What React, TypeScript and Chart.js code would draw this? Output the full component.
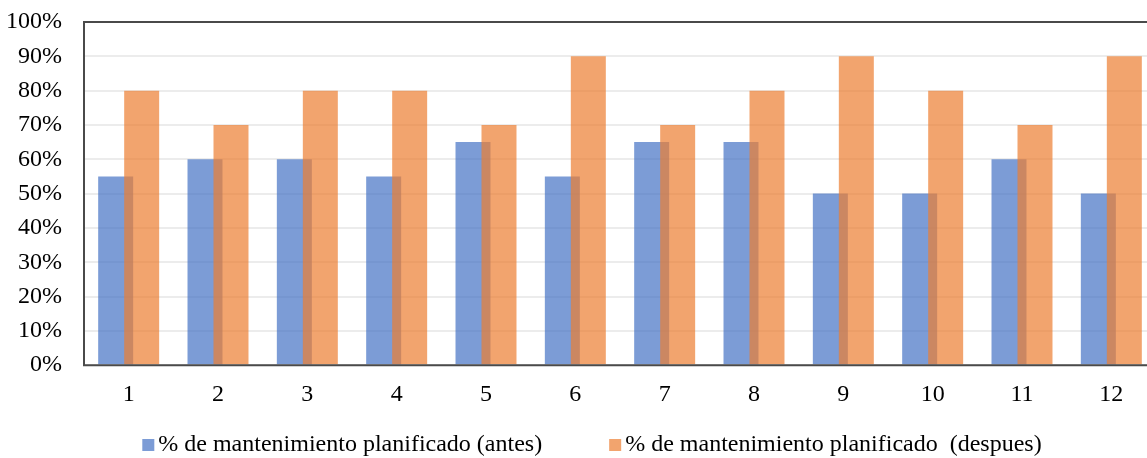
import { useEffect, useRef } from "react";
import { Chart, registerables } from "chart.js";

Chart.register(...registerables);

// Months 1..12 and the share of planned maintenance before / after.
const categories = ["1", "2", "3", "4", "5", "6", "7", "8", "9", "10", "11", "12"];
const antes = [55, 60, 60, 55, 65, 55, 65, 65, 50, 50, 60, 50];
const despues = [80, 70, 80, 80, 70, 90, 70, 80, 90, 80, 70, 90];
const seriesLabels = [
  "% de mantenimiento planificado (antes)",
  "% de mantenimiento planificado  (despues)",
];

const FONT = "'Liberation Serif', 'Times New Roman', serif";
const BLUE = "rgba(68, 114, 196, 0.7)";
const ORANGE = "rgba(237, 125, 49, 0.7)";

// Paint the second series after the first so its translucent bars overlap on top.
const overlapOrderPlugin = {
  id: "overlapOrder",
  beforeDatasetDraw(_chart: any, args: any) {
    if (args.index === 1) return false;
    return true;
  },
  afterDatasetsDraw(chart: any) {
    const meta = chart.getDatasetMeta(1);
    if (meta && meta.visible) meta.controller.draw();
  },
};

// Dark lines on the top, left and bottom of the plot area.
const framePlugin = {
  id: "frame",
  afterDatasetsDraw(chart: any) {
    const { ctx, chartArea: a } = chart;
    ctx.save();
    ctx.strokeStyle = "#4a4a4a";
    ctx.lineWidth = 2;
    ctx.beginPath();
    ctx.moveTo(a.right + 10, a.top);
    ctx.lineTo(a.left, a.top);
    ctx.lineTo(a.left, a.bottom);
    ctx.lineTo(a.right + 10, a.bottom);
    ctx.stroke();
    ctx.restore();
  },
};

// Legend row under the axis: square swatch followed by the series name.
const legendPlugin = {
  id: "bottomLegend",
  afterDraw(chart: any) {
    const { ctx } = chart;
    const box = 12;
    const textGap = 4;
    const itemGap = 67;
    const centerX = 592;
    const y = 445;
    ctx.save();
    ctx.font = `24px ${FONT}`;
    ctx.textBaseline = "middle";
    ctx.textAlign = "left";
    const items = chart.data.datasets.map((ds: any) => ({
      text: ds.label as string,
      color: ds.backgroundColor as string,
      w: ctx.measureText(ds.label).width,
    }));
    const total =
      items.reduce((s: number, it: any) => s + box + textGap + it.w, 0) +
      itemGap * (items.length - 1);
    let x = centerX - total / 2;
    for (const it of items) {
      ctx.fillStyle = it.color;
      ctx.fillRect(x, y - box / 2, box, box);
      x += box + textGap;
      ctx.fillStyle = "#000";
      ctx.fillText(it.text, x, y);
      x += it.w + itemGap;
    }
    ctx.restore();
  },
};

export default function App() {
  const ref = useRef<HTMLCanvasElement | null>(null);

  useEffect(() => {
    if (!ref.current) return;
    const chart = new Chart(ref.current, {
      type: "bar",
      data: {
        labels: categories,
        datasets: [
          {
            label: seriesLabels[0],
            data: antes,
            backgroundColor: BLUE,
            categoryPercentage: 0.582,
            barPercentage: 1.346,
          },
          {
            label: seriesLabels[1],
            data: despues,
            backgroundColor: ORANGE,
            categoryPercentage: 0.582,
            barPercentage: 1.346,
          },
        ],
      },
      options: {
        responsive: false,
        animation: false,
        layout: { padding: { left: 0, right: 24, top: 22, bottom: 34 } },
        plugins: {
          legend: { display: false },
          tooltip: { enabled: false },
        },
        scales: {
          x: {
            grid: { display: false, drawTicks: false },
            border: { display: false },
            ticks: { color: "#000", padding: 15, font: { family: FONT, size: 24 } },
          },
          y: {
            min: 0,
            max: 100,
            afterFit(scale: any) {
              scale.width = 84;
              scale.paddingTop = 0;
              scale.paddingBottom = 0;
            },
            grid: { color: "#ececec", lineWidth: 2, drawTicks: false },
            border: { display: false },
            ticks: {
              stepSize: 10,
              autoSkip: false,
              color: "#000",
              padding: 22,
              font: { family: FONT, size: 24 },
              callback: (v: any) => `${v}%`,
            },
          },
        },
      },
      plugins: [overlapOrderPlugin, framePlugin, legendPlugin],
    });
    return () => chart.destroy();
  }, []);

  return (
    <div
      style={{
        position: "fixed",
        left: 0,
        top: 0,
        width: 1147,
        height: 458,
        overflow: "hidden",
        background: "#fff",
      }}
    >
      <canvas ref={ref} width={1180} height={458} style={{ display: "block" }} />
    </div>
  );
}
